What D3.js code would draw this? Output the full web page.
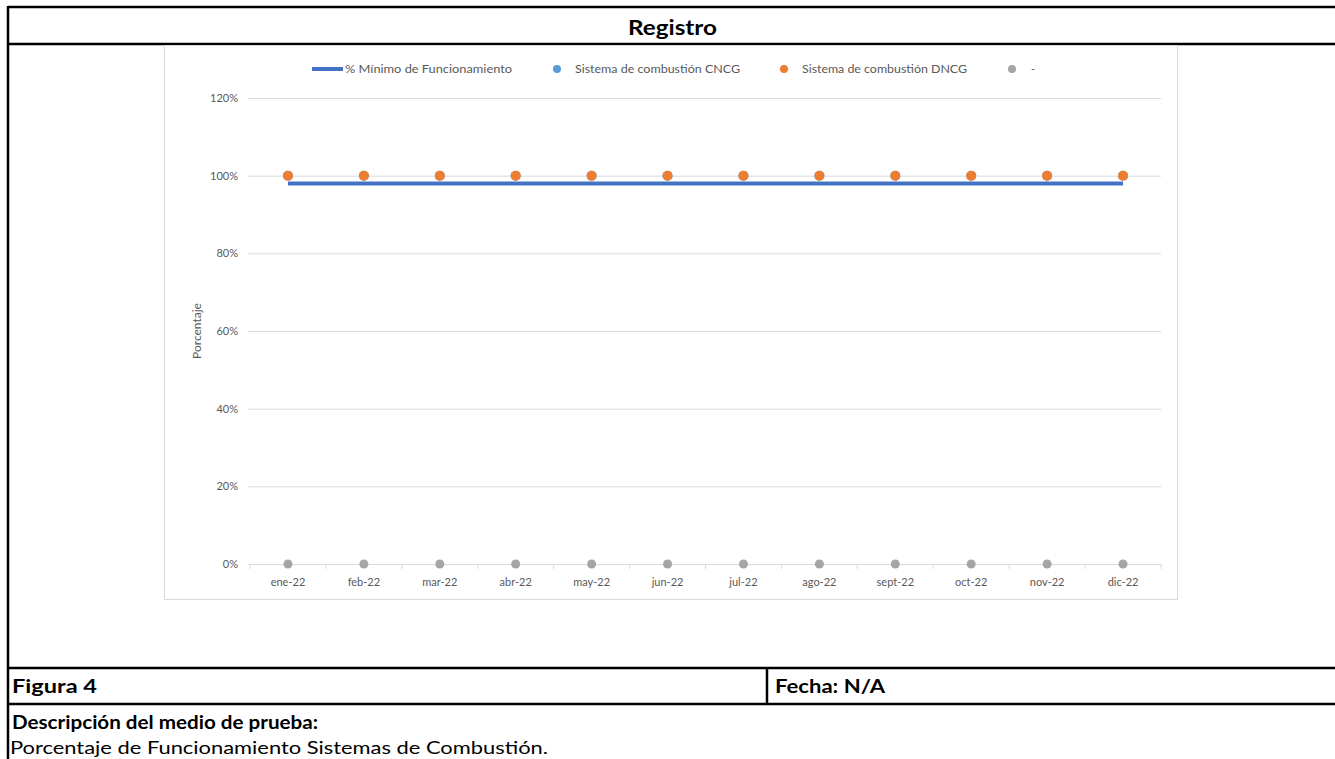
<!DOCTYPE html>
<html lang="es">
<head>
    <meta charset="UTF-8">
    <title>Registro</title>
    <script src="https://cdn.jsdelivr.net/npm/d3@7/dist/d3.min.js"></script>
    <style>
        body { margin: 0; background: #fff; }
        text { font-family: Lato, "Open Sans", sans-serif; }
    </style>
</head>
<body>
<svg id="page"></svg>

<script>
    const months = ["ene-22", "feb-22", "mar-22", "abr-22", "may-22", "jun-22", "jul-22", "ago-22", "sept-22", "oct-22", "nov-22", "dic-22"];
    const minimo = [0.98, 0.98, 0.98, 0.98, 0.98, 0.98, 0.98, 0.98, 0.98, 0.98, 0.98, 0.98];
    const cncg = [1, 1, 1, 1, 1, 1, 1, 1, 1, 1, 1, 1];
    const dncg = [1, 1, 1, 1, 1, 1, 1, 1, 1, 1, 1, 1];
    const guion = [0, 0, 0, 0, 0, 0, 0, 0, 0, 0, 0, 0];
    const yTicks = [0, 0.2, 0.4, 0.6, 0.8, 1, 1.2];

    const W = 1335, H = 759;
    const svg = d3.select("#page").attr("width", W).attr("height", H);

    // tabla exterior
    const tb = svg.append("g").attr("stroke", "#000").attr("stroke-width", 2.5);
    tb.append("line").attr("x1", 8).attr("x2", W).attr("y1", 7).attr("y2", 7);
    tb.append("line").attr("x1", 8).attr("x2", W).attr("y1", 44).attr("y2", 44);
    tb.append("line").attr("x1", 8).attr("x2", W).attr("y1", 668).attr("y2", 668);
    tb.append("line").attr("x1", 8).attr("x2", W).attr("y1", 704).attr("y2", 704);
    tb.append("line").attr("x1", 8).attr("x2", 8).attr("y1", 6).attr("y2", H);
    tb.append("line").attr("x1", 767).attr("x2", 767).attr("y1", 668).attr("y2", 704);

    // textos de la tabla (ancho ajustado al original)
    function txt(x, y, size, bold, len, s) {
        return svg.append("text").attr("x", x).attr("y", y)
            .attr("font-size", size + "px").attr("font-weight", bold ? "700" : "400")
            .attr("textLength", len).attr("lengthAdjust", "spacingAndGlyphs")
            .text(s);
    }
    txt(628, 35, 20, true, 89, "Registro");
    txt(12, 693, 18, true, 85, "Figura 4");
    txt(775, 693, 18, true, 110, "Fecha: N/A");
    txt(12, 729, 18, true, 306, "Descripción del medio de prueba:");
    txt(10, 754, 18, false, 538, "Porcentaje de Funcionamiento Sistemas de Combustión.");

    // marco del grafico
    svg.append("rect").attr("x", 164.5).attr("y", 45.5).attr("width", 1013).attr("height", 554)
        .attr("fill", "#fff").attr("stroke", "#d9d9d9").attr("stroke-width", 1);

    const pLeft = 250, pRight = 1161, pTop = 98, pBottom = 564;
    const x = d3.scaleBand().domain(months).range([pLeft, pRight]);
    const y = d3.scaleLinear().domain([0, 1.2]).range([pBottom, pTop]);
    const cx = d => x(d) + x.bandwidth() / 2;

    const g = svg.append("g");

    // rejilla
    g.append("g")
        .attr("transform", "translate(" + pLeft + ",0)")
        .call(d3.axisLeft(y).tickValues(yTicks).tickSize(-(pRight - pLeft)).tickFormat(d3.format(".0%")))
        .call(s => s.select(".domain").remove())
        .call(s => s.selectAll(".tick line").attr("stroke", "#d9d9d9").attr("x1", -2))
        .call(s => s.selectAll(".tick text").attr("x", -12).attr("fill", "#595959")
            .attr("font-size", "11px").attr("font-family", "Lato, sans-serif"));

    // eje x
    g.append("g")
        .attr("transform", "translate(0," + pBottom + ")")
        .call(d3.axisBottom(x).tickSize(0).tickPadding(14))
        .call(s => s.select(".domain").attr("stroke", "#d9d9d9"))
        .call(s => s.selectAll(".tick text").attr("fill", "#595959")
            .attr("font-size", "11px").attr("font-family", "Lato, sans-serif"));

    g.append("g").selectAll("line")
        .data(months.concat(["_fin"]))
        .enter().append("line")
        .attr("x1", (d, i) => pLeft + i * x.step())
        .attr("x2", (d, i) => pLeft + i * x.step())
        .attr("y1", pBottom).attr("y2", pBottom + 5)
        .attr("stroke", "#d9d9d9");

    svg.append("text")
        .attr("transform", "translate(201," + ((pTop + pBottom) / 2) + ") rotate(-90)")
        .attr("text-anchor", "middle").attr("fill", "#595959").attr("font-size", "12px")
        .text("Porcentaje");

    // series
    g.append("path")
        .datum(minimo)
        .attr("fill", "none").attr("stroke", "#4472c4").attr("stroke-width", 4)
        .attr("d", d3.line().x((d, i) => cx(months[i])).y(d => y(d)));

    const puntos = [
        {vals: cncg, color: "#5b9bd5", r: 5},
        {vals: dncg, color: "#ed7d31", r: 5},
        {vals: guion, color: "#a5a5a5", r: 4.5}
    ];
    puntos.forEach(p => {
        g.append("g").selectAll("circle")
            .data(p.vals).enter().append("circle")
            .attr("cx", (d, i) => cx(months[i]))
            .attr("cy", d => y(d))
            .attr("r", p.r)
            .attr("fill", p.color);
    });

    // leyenda
    const leg = svg.append("g").attr("font-size", "11px").attr("fill", "#595959");
    leg.append("line").attr("x1", 312).attr("x2", 343).attr("y1", 69).attr("y2", 69)
        .attr("stroke", "#4472c4").attr("stroke-width", 4);
    leg.append("text").attr("x", 345).attr("y", 73)
        .attr("textLength", 167).attr("lengthAdjust", "spacingAndGlyphs")
        .text("% Mínimo de Funcionamiento");
    const legPts = [
        {cx: 557, tx: 575, len: 165, color: "#5b9bd5", label: "Sistema de combustión CNCG"},
        {cx: 784, tx: 802, len: 165, color: "#ed7d31", label: "Sistema de combustión DNCG"},
        {cx: 1012, tx: 1031, len: 4, color: "#a5a5a5", label: "-"}
    ];
    legPts.forEach(l => {
        leg.append("circle").attr("cx", l.cx).attr("cy", 69).attr("r", 4).attr("fill", l.color);
        leg.append("text").attr("x", l.tx).attr("y", 73)
            .attr("textLength", l.len).attr("lengthAdjust", "spacingAndGlyphs")
            .text(l.label);
    });
</script>
</body>
</html>
